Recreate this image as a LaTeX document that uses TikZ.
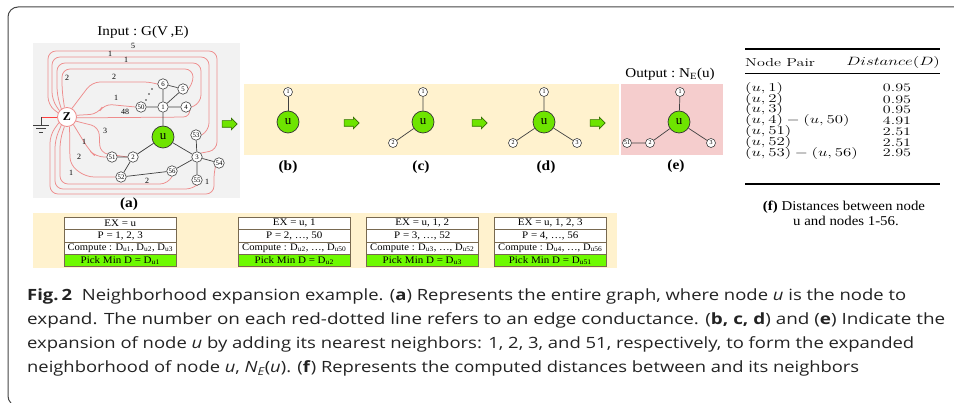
\documentclass[tikz,border=0pt]{standalone}
\usepackage{fontspec}
\usepackage{graphicx}
\newfontfamily\tnr{Liberation Serif}
\newfontfamily\capfont{Open Sans}
\usetikzlibrary{shapes.arrows}

\definecolor{panelgray}{RGB}{242,242,242}
\definecolor{panelyel}{RGB}{255,242,206}
\definecolor{panelpink}{RGB}{245,205,205}
\definecolor{ugreen}{RGB}{110,228,0}
\definecolor{pickgreen}{RGB}{110,250,0}
\definecolor{redl}{RGB}{238,140,140}
\definecolor{tabline}{RGB}{120,105,80}
\definecolor{framec}{RGB}{70,70,70}
\definecolor{captext}{RGB}{35,35,35}
\definecolor{arrowdark}{RGB}{50,110,0}

% horizontal stretch helpers
\newcommand{\sx}[2][1.1]{\scalebox{#1}[1]{#2}}
\newcommand{\capline}[2]{\resizebox{#1pt}{\height}{#2}}

\pgfdeclarelayer{back}
\pgfdeclarelayer{wires}
\pgfsetlayers{back,wires,main}

\tikzset{
  gnode/.style={circle, draw=black!75, fill=white, line width=0.6pt, inner sep=0pt,
    minimum size=10.5pt, font=\tnr\fontsize{6.8}{7}\selectfont},
  snode/.style={gnode, minimum size=9pt, font=\tnr\fontsize{6}{6}\selectfont},
  unode/.style={circle, draw=black!80, fill=ugreen, line width=0.7pt, inner sep=0pt,
    minimum size=22pt, font=\tnr\fontsize{13}{13}\selectfont},
  znode/.style={circle, draw=redl, fill=white, line width=0.8pt, inner sep=0pt,
    minimum size=19pt, font=\tnr\bfseries\fontsize{12}{12}\selectfont},
  redline/.style={draw=redl, line width=0.75pt, rounded corners=8pt},
  gedge/.style={draw=black!75, line width=0.7pt},
  cond/.style={font=\tnr\fontsize{8}{8}\selectfont, inner sep=0pt},
  garrow/.style={single arrow, draw=arrowdark, fill=ugreen, line width=0.6pt,
    minimum height=15pt, single arrow head extend=2.5pt, inner xsep=0pt, inner ysep=3pt},
  sublabel/.style={font=\tnr\bfseries\fontsize{14}{14}\selectfont, inner sep=0pt},
  trow/.style={draw=tabline, line width=0.6pt, fill=white, anchor=north west,
    minimum width=112pt, minimum height=12.3pt, inner sep=0pt,
    font=\tnr\fontsize{10}{10}\selectfont},
  pickrow/.style={trow, fill=pickgreen},
  ftext/.style={font=\fontsize{11.5}{12}\selectfont, inner sep=0pt},
  captxt/.style={font=\capfont\fontsize{15.5}{18}\selectfont, text=captext, inner sep=0pt, anchor=base west},
}

\begin{document}
\begin{tikzpicture}[x=1pt,y=-1pt]
\useasboundingbox (0,0) rectangle (954,403);
\clip (0,0) rectangle (954,403);

% background and panels
\begin{pgfonlayer}{back}
  \fill[white] (0,0) rectangle (954,403);
  \fill[panelgray] (33,43) rectangle (240,198);
  \fill[panelyel] (244,84) rectangle (619,155);
  \fill[panelpink] (621,84) rectangle (723,155);
  \fill[panelyel] (33,213) rectangle (617,268);
\end{pgfonlayer}

% outer frame
\draw[framec, line width=1pt, rounded corners=10pt] (990,7) -- (8,7) -- (8,406) -- (990,406);

\node[inner sep=0pt, font=\tnr\fontsize{13.5}{14}\selectfont] (intitle) at (143,32) {\sx[1.12]{Input :\ G(V\,,E)}};
\node[inner sep=0pt, font=\tnr\fontsize{13.5}{14}\selectfont] (outtitle) at (670,74) {\sx[1.12]{Output :\ N\textsubscript{E}(u)}};

% ---------------- graph (a) ----------------
\node[gnode] (n6) at (163,84) {6};
\node[gnode] (n5) at (183,89) {5};
\node[gnode] (n1) at (163,107) {1};
\node[gnode] (n4) at (186,107) {4};
\node[gnode] (n50) at (141,107) {50};
\node[unode] (u) at (163,137) {u};
\node[gnode] (n53) at (196,135) {53};
\node[gnode] (n3) at (197,157) {3};
\node[gnode] (n54) at (219,163) {54};
\node[gnode] (n55) at (197,180) {55};
\node[gnode] (n56) at (172,171) {56};
\node[gnode] (n2) at (133,157) {2};
\node[gnode] (n51) at (112,157) {51};
\node[gnode] (n52) at (121,177) {52};
\node[znode] (Z) at (67,117) {Z};

\fill[black!80] (152,89) circle (0.8) (149,94) circle (0.8) (146,100) circle (0.8);

% ground
\coordinate (gnd) at (41,117);
\begin{pgfonlayer}{wires}
  \draw[red!75, line width=0.8pt] (Z.west) -- (gnd);
\end{pgfonlayer}
\draw[black!75, line width=0.7pt] (gnd) -- ++(0,8);
\draw[black!75, line width=0.7pt] (33,125) -- (49,125) (36,128.5) -- (46,128.5) (39,132) -- (43,132);

% conductance wires from Z
\begin{pgfonlayer}{wires}
  \draw[redline] (Z.155) -- (48,105) -- (48,51) -- (217,51) -- (217,150) -- (n3.north east);
  \draw[redline] (Z.140) -- (52,100) -- (52,57) -- (209,57) -- (209,131) -- (n53.east);
  \draw[redline] (Z.125) -- (57,95) -- (57,63) -- (201,63) -- (201,103) -- (n4.east);
  \draw[redline] (Z.105) -- (62,90) -- (62,69) -- (193,69) -- (193,85) -- (n5.east);
  \draw[redline] (Z.60) -- (92,82) -- (152,82) -- (n6.west);
  \draw[redline] (Z.10) -- (98,114) -- (104,104) -- (n50.west);
  \draw[redline] (Z.-5) -- (191,117) -- (n4.south east);
  \draw[redline] (Z.-25) -- (99,127) -- (100,153) -- (n2.west);
  \draw[redline] (Z.-50) -- (89,150) -- (96,157) -- (n51.west);
  \draw[redline] (Z.-75) -- (70,165) -- (86,177) -- (n52.west);
  \draw[redline] (Z.-105) -- (60,140) -- (60,184) -- (168,184) -- (n56.south);
  \draw[redline] (Z.-125) -- (55,140) -- (55,189) -- (194,189) -- (n55.south);
  \draw[redline] (Z.-145) -- (50,135) -- (50,194) -- (214,194) -- (214,170) -- (n54.south west);
  % graph edges
  \draw[gedge] (n6) -- (n5) (n6) -- (n1) (n5) -- (n1) (n1) -- (n4) (n50) -- (n1)
    (n1) -- (u) (u) -- (n2) (u) -- (n3) (n51) -- (n2) (n2) -- (n52) (n52) -- (n56)
    (n56) -- (n3) (n53) -- (n3) (n3) -- (n54) (n3) -- (n55);
\end{pgfonlayer}

\node[cond] (c5) at (133,45.5) {5};
\node[cond] (c1a) at (110,53.5) {1};
\node[cond] (c1b) at (126,59.5) {1};
\node[cond] (c2a) at (67,78) {2};
\node[cond] (c2b) at (114,77) {2};
\node[cond] (c1c) at (116,98) {1};
\node[cond] (c48) at (125,111.5) {48};
\node[cond] (c3) at (105,131) {3};
\node[cond] (c1d) at (84,142) {1};
\node[cond] (c2c) at (79,157) {2};
\node[cond] (c1e) at (71,173) {1};
\node[cond] (c2d) at (147,180.5) {2};
\node[cond] (c1f) at (207,182) {1};

\node[sublabel] (la) at (129,204) {\sx{(a)}};

% ---------------- expansion steps ----------------
\node[garrow] (ar1) at (228,124) {};
\node[garrow] (ar2) at (350,123) {};
\node[garrow] (ar3) at (478,123) {};
\node[garrow] (ar4) at (596,123) {};

% (b)
\node[snode] (b1) at (288,92) {1};
\node[unode] (bu) at (288,122) {u};
\draw[gedge] (b1) -- (bu);
% (c)
\node[snode] (c1) at (423,92) {1};
\node[unode] (cu) at (423,122) {u};
\node[snode] (c2) at (393,143) {2};
\draw[gedge] (c1) -- (cu) (cu) -- (c2);
% (d)
\node[snode] (d1) at (544,92) {1};
\node[unode] (du) at (544,122) {u};
\node[snode] (d2) at (513,143) {2};
\node[snode] (d3) at (577,143) {3};
\draw[gedge] (d1) -- (du) (du) -- (d2) (du) -- (d3);
% (e)
\node[snode] (e1) at (680,92) {1};
\node[unode] (eu) at (679,122) {u};
\node[snode] (e2) at (650,143) {2};
\node[snode] (e51) at (627,143) {51};
\node[snode] (e3) at (711,143) {3};
\draw[gedge] (e1) -- (eu) (eu) -- (e2) (e2) -- (e51) (eu) -- (e3);

\node[sublabel] (lb) at (288,167) {\sx{(b)}};
\node[sublabel] (lc) at (421,167) {\sx{(c)}};
\node[sublabel] (ld) at (546,167) {\sx{(d)}};
\node[sublabel] (le) at (676,166) {\sx{(e)}};

% ---------------- step tables ----------------
\foreach \tx/\ex/\pp/\cmp/\pk in {
  64/{EX = u}/{P = 1, 2, 3}/{Compute : D\textsubscript{u1}, D\textsubscript{u2}, D\textsubscript{u3}}/{D\textsubscript{u1}},
  238/{EX = u, 1}/{P = 2, \ldots, 50}/{Compute : D\textsubscript{u2}, \ldots, D\textsubscript{u50}}/{D\textsubscript{u2}},
  366/{EX = u, 1, 2}/{P = 3, \ldots, 52}/{Compute : D\textsubscript{u3}, \ldots, D\textsubscript{u52}}/{D\textsubscript{u3}},
  494/{EX = u, 1, 2, 3}/{P = 4, \ldots, 56}/{Compute : D\textsubscript{u4}, \ldots, D\textsubscript{u56}}/{D\textsubscript{u51}}} {
  \node[trow] (ex\tx) at (\tx,217) {\sx{\ex}};
  \node[trow] (p\tx) at (\tx,229.3) {\sx{\pp}};
  \node[trow] (cmp\tx) at (\tx,241.6) {\sx[1.06]{\cmp}};
  \node[pickrow] (pk\tx) at (\tx,253.9) {\sx{Pick Min D = \pk}};
}

% ---------------- distance table (f) ----------------
\draw[line width=1.3pt] (745,49) -- (940,49);
\draw[line width=0.5pt] (745,73) -- (940,73);
\draw[line width=1.3pt] (745,184) -- (940,184);
\node[ftext, anchor=west] (fh1) at (745,63) {\sx[1.4]{Node Pair}};
\node[ftext, anchor=east] (fh2) at (940,63) {\sx[1.4]{$Distance(D)$}};
\foreach \yy/\pair/\dist in {88.3/{$(u,1)$}/0.95, 99.3/{$(u,2)$}/0.95, 110/{$(u,3)$}/0.95,
    120.7/{$(u,4)-(u,50)$}/4.91, 131.7/{$(u,51)$}/2.51, 142.7/{$(u,52)$}/2.51,
    153.3/{$(u,53)-(u,56)$}/2.95} {
  \node[ftext, anchor=west] at (745,\yy) {\sx[1.4]{\pair}};
  \node[ftext] at (897,\yy) {\sx[1.4]{\dist}};
}
\node[inner sep=0pt, font=\tnr\fontsize{13.5}{14}\selectfont] (fcap1) at (844,207) {\sx[1.1]{\textbf{(f)} Distances between node}};
\node[inner sep=0pt, font=\tnr\fontsize{13.5}{14}\selectfont] (fcap2) at (846,221) {\sx[1.1]{u and nodes 1-56.}};

% ---------------- caption ----------------
\node[captxt] (cap1) at (27,300.5) {\capline{879}{\textbf{Fig.\,2}\ \ Neighborhood expansion example. (\textbf{a}) Represents the entire graph, where node \textit{u} is the node to}};
\node[captxt] (cap2) at (27,324.5) {\capline{918}{expand. The number on each red-dotted line refers to an edge conductance. (\textbf{b, c, d}) and (\textbf{e}) Indicate the}};
\node[captxt] (cap3) at (27,348.5) {\capline{887}{expansion of node \textit{u} by adding its nearest neighbors: 1, 2, 3, and 51, respectively, to form the expanded}};
\node[captxt] (cap4) at (27,372.5) {\capline{832}{neighborhood of node \textit{u}, \textit{N\textsubscript{E}}(\textit{u}). (\textbf{f}) Represents the computed distances between and its neighbors}};
\end{tikzpicture}
\end{document}
